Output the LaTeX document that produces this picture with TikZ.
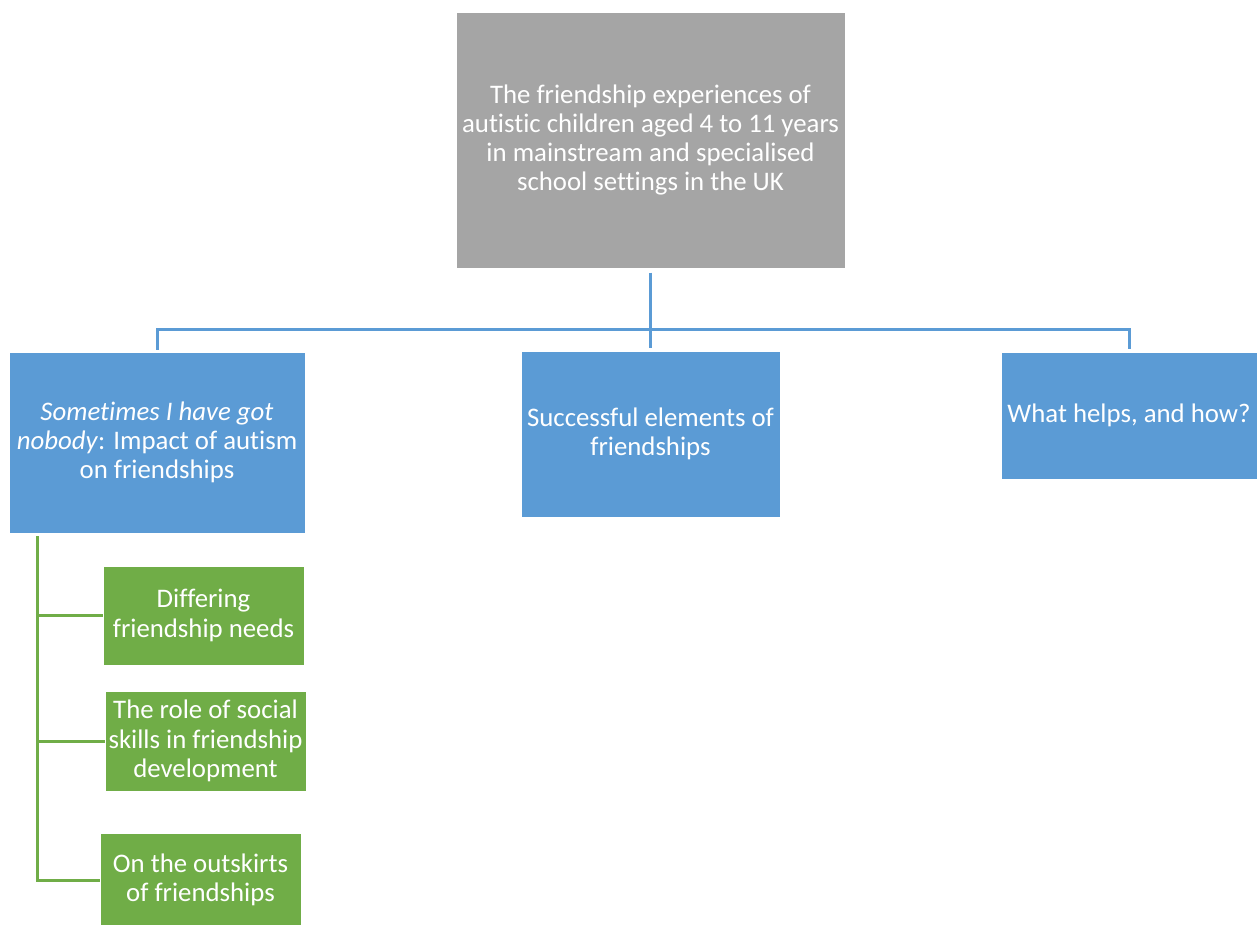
\documentclass[tikz,border=0pt]{standalone}
\usepackage{fontspec}
\setmainfont[Ligatures={NoCommon}]{Carlito}
\definecolor{grayfill}{HTML}{A5A5A5}
\definecolor{bluefill}{HTML}{5B9BD5}
\definecolor{greenfill}{HTML}{70AD47}
\tikzset{
  box/.style={inner sep=0pt, align=center, text=white, font=\fontsize{26.8}{29.3}\selectfont, draw=white, line width=1pt},
  topbox/.style={box, fill=grayfill},
  bluebox/.style={box, fill=bluefill},
  greenbox/.style={box, fill=greenfill},
  blueline/.style={draw=bluefill, line width=3pt},
  greenline/.style={draw=greenfill, line width=3pt},
}
\begin{document}
\begin{tikzpicture}[x=1pt,y=-1pt]
\useasboundingbox (0,0) rectangle (1260,924);
\node[topbox, minimum width=389pt, minimum height=256pt] (top) at (650.5,140) {The friendship experiences of\\autistic children aged 4 to 11 years\\in mainstream and specialised\\school settings in the UK};
\node[bluebox, minimum width=296pt, minimum height=181pt] (b1) at (157,442.5) {\textit{Sometimes I have got}\\\textit{nobody}: Impact of autism\\on friendships};
\node[bluebox, minimum width=259pt, minimum height=166pt] (b2) at (650.5,434) {Successful elements of\\friendships};
\node[bluebox, minimum width=256pt, minimum height=127pt] (b3) at (1129,415.5) {What helps, and how?};
\node[greenbox, minimum width=201pt, minimum height=99pt] (g1) at (203.5,615.5) {Differing\\friendship needs};
\node[greenbox, minimum width=201pt, minimum height=100pt] (g2) at (205.5,741) {The role of social\\skills in friendship\\development};
\node[greenbox, minimum width=201pt, minimum height=93pt] (g3) at (200.5,880) {On the outskirts\\of friendships};
\coordinate (bus) at (651,329);
\coordinate (gtop) at (37,536);
\draw[blueline] ([yshift=-4pt]top.south) -- ([yshift=3pt]b2.north);
\draw[blueline] ([yshift=2pt]b1.north) |- (bus) -| ([yshift=3pt]b3.north);
\draw[greenline] (gtop) |- (g3.west);
\draw[greenline] (gtop |- g1.west) -- (g1.west);
\draw[greenline] (gtop |- g2.west) -- (g2.west);
\end{tikzpicture}
\end{document}
